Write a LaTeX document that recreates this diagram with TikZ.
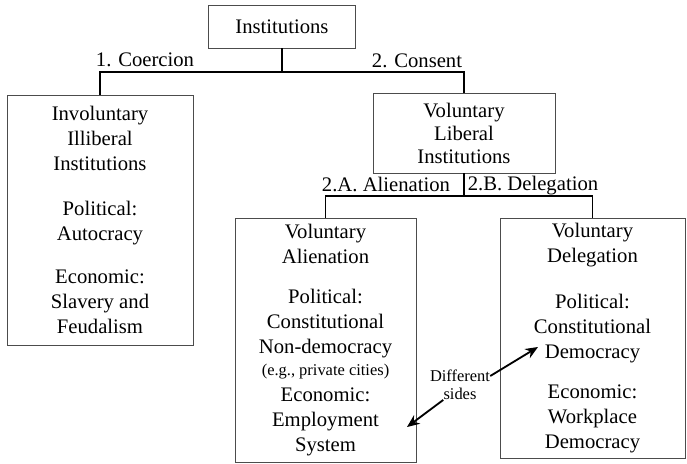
\documentclass[tikz,border=0pt]{standalone}
\usepackage{fontspec}
\setmainfont{Liberation Serif}
\usetikzlibrary{positioning, arrows.meta, calc}

\begin{document}
\begin{tikzpicture}[
    x=0.025cm, y=-0.025cm,
    box/.style={rectangle, draw=black!70, line width=0.5pt, align=center, inner sep=0pt, font=\fontsize{14.7}{17.8}\selectfont},
    branch/.style={line width=1pt},
    lbl/.style={anchor=base, inner sep=0pt, font=\fontsize{14.7}{17.8}\selectfont},
    note/.style={inner sep=0pt, align=center, font=\fontsize{11.7}{14}\selectfont},
    pointer/.style={-{Stealth[length=9pt, width=7.5pt]}, line width=1.3pt}
]
\path[use as bounding box, fill=white] (0,0) rectangle (687,463);

% Boxes
\node[box, minimum width=3.675cm, minimum height=1.075cm] (inst) at (282,26.5) {Institutions};
\node[box, minimum width=4.65cm, minimum height=6.25cm] (illib) at (100,220) {Involuntary\\Illiberal\\Institutions\\[14pt]Political:\\Autocracy\\[12.8pt]Economic:\\Slavery and\\Feudalism};
\node[box, minimum width=4.55cm, minimum height=2cm, font=\fontsize{14.7}{16.4}\selectfont] (lib) at (464,133) {Voluntary\\Liberal\\Institutions};
\node[box, minimum width=4.525cm, minimum height=6.1cm] (alien) at (325.5,340) {Voluntary\\Alienation\\[10.7pt]Political:\\Constitutional\\Non-democracy\\[-2.8pt]{\fontsize{11.7}{14}\selectfont (e.g., private cities)}\\[0.7pt]Economic:\\Employment\\System};
\node[box, minimum width=4.625cm, minimum height=6cm] (deleg) at (592.5,338) {Voluntary\\Delegation\\[15pt]Political:\\Constitutional\\Democracy\\[10.7pt]Economic:\\Workplace\\Democracy};

% Branch labels
\node[lbl] (coerc) at (145,66) {1. Coercion};
\node[lbl] (cons) at (417,67) {2. Consent};
\node[lbl] (alab) at (386,191) {2.A. Alienation};
\node[lbl] (blab) at (533,190) {2.B. Delegation};

% Tree
\coordinate (bar1) at (0,72);
\coordinate (bar2) at (0,196);
\draw[branch] (inst.south) -- (inst.south |- bar1);
\draw[branch] (illib.north) |- (lib.north |- bar1) -- (lib.north);
\draw[branch] (lib.south) -- (lib.south |- bar2);
\draw[branch] (alien.north) |- (deleg.north |- bar2) -- (deleg.north);

% Different sides
\node[note] (diff) at (460,376) {Different};
\node[note, below=4pt of diff] (sides) {sides};
\coordinate (emptip) at (407,427);
\coordinate (demtip) at (538,347);
\draw[pointer] (sides.south west) -- (emptip);
\draw[pointer] (diff.east) -- (demtip);

\end{tikzpicture}
\end{document}
